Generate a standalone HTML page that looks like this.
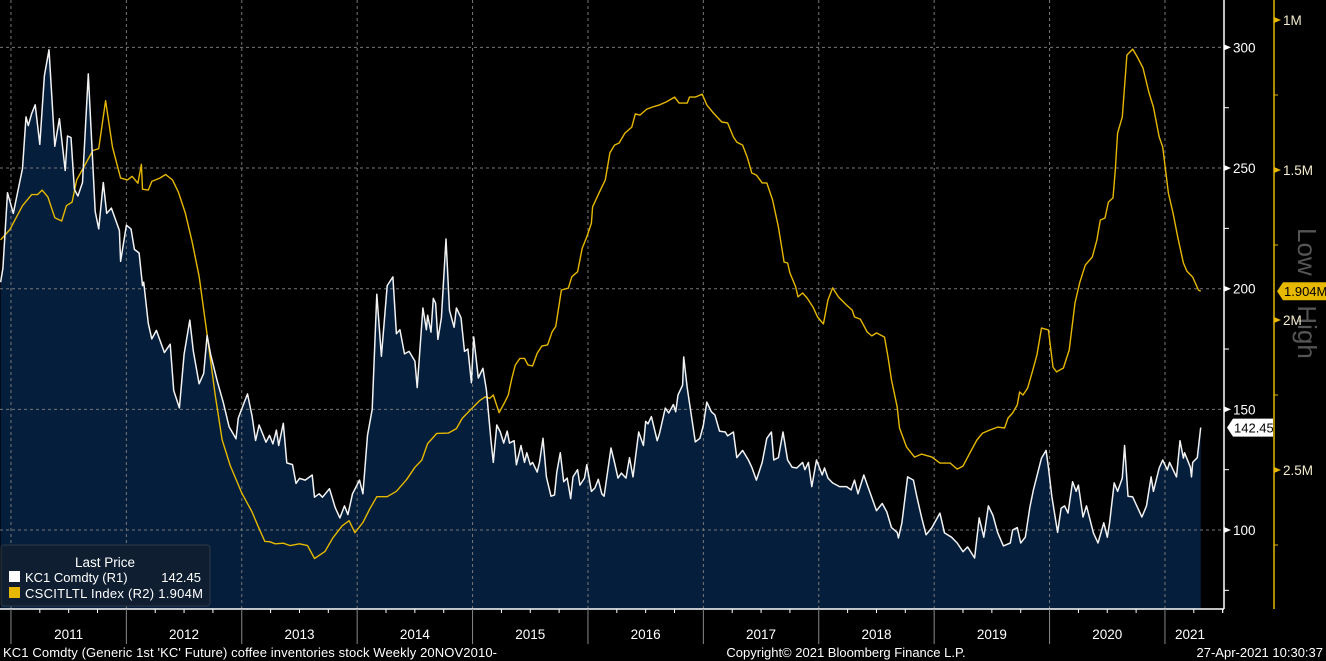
<!DOCTYPE html>
<html><head><meta charset="utf-8">
<style>
html,body{margin:0;padding:0;background:#000;}
body{width:1326px;height:661px;overflow:hidden;font-family:"Liberation Sans",sans-serif;position:relative;}
svg{display:block}
text{font-family:"Liberation Sans","DejaVu Sans",sans-serif;}
</style></head>
<body>
<svg id="chart" width="1326" height="661" viewBox="0 0 1326 661" xmlns="http://www.w3.org/2000/svg">
<rect x="0" y="0" width="1326" height="661" fill="#000"/>
<text x="0" y="0" transform="translate(1298,228) rotate(90)" fill="#555" font-size="26">Low &gt; High</text>
<g id="fillLayer"></g>
<g id="gridLayer"></g>
<g id="lineLayer"></g>
<g id="axisLayer"></g>
</svg>
<script>
// ---- data ----
const kcDates=[2010.91,2010.93,2010.97,2011.02,2011.10,2011.13,2011.15,2011.18,2011.21,2011.25,2011.29,2011.33,2011.38,2011.42,2011.47,2011.49,2011.52,2011.55,2011.58,2011.62,2011.67,2011.69,2011.73,2011.76,2011.80,2011.83,2011.87,2011.94,2011.95,2012.00,2012.04,2012.07,2012.11,2012.14,2012.15,2012.19,2012.22,2012.26,2012.33,2012.38,2012.41,2012.46,2012.50,2012.55,2012.58,2012.63,2012.67,2012.70,2012.73,2012.79,2012.84,2012.89,2012.95,2012.97,2013.05,2013.09,2013.12,2013.15,2013.21,2013.24,2013.27,2013.30,2013.32,2013.36,2013.39,2013.44,2013.47,2013.50,2013.55,2013.61,2013.63,2013.67,2013.70,2013.76,2013.81,2013.85,2013.89,2013.92,2013.96,2014.02,2014.05,2014.09,2014.13,2014.17,2014.21,2014.26,2014.31,2014.34,2014.37,2014.41,2014.45,2014.50,2014.52,2014.57,2014.60,2014.61,2014.64,2014.66,2014.68,2014.70,2014.73,2014.77,2014.80,2014.84,2014.86,2014.90,2014.93,2014.96,2014.99,2015.01,2015.05,2015.09,2015.12,2015.16,2015.18,2015.21,2015.24,2015.27,2015.30,2015.32,2015.36,2015.38,2015.42,2015.45,2015.47,2015.50,2015.52,2015.56,2015.58,2015.61,2015.64,2015.68,2015.71,2015.73,2015.76,2015.79,2015.82,2015.85,2015.87,2015.91,2015.93,2015.97,2015.99,2016.03,2016.06,2016.09,2016.12,2016.14,2016.20,2016.23,2016.26,2016.29,2016.33,2016.36,2016.39,2016.44,2016.48,2016.50,2016.52,2016.55,2016.60,2016.62,2016.67,2016.70,2016.74,2016.76,2016.78,2016.82,2016.83,2016.86,2016.88,2016.93,2016.97,2017.00,2017.03,2017.07,2017.10,2017.14,2017.19,2017.21,2017.26,2017.29,2017.34,2017.39,2017.42,2017.46,2017.51,2017.55,2017.59,2017.61,2017.65,2017.69,2017.73,2017.77,2017.81,2017.86,2017.88,2017.91,2017.94,2017.98,2018.03,2018.05,2018.08,2018.12,2018.18,2018.24,2018.28,2018.31,2018.34,2018.39,2018.43,2018.50,2018.55,2018.59,2018.63,2018.68,2018.69,2018.72,2018.77,2018.82,2018.85,2018.89,2018.93,2018.98,2019.05,2019.09,2019.15,2019.20,2019.25,2019.29,2019.35,2019.39,2019.43,2019.47,2019.51,2019.55,2019.60,2019.66,2019.68,2019.72,2019.75,2019.79,2019.83,2019.86,2019.93,2019.97,2019.99,2020.02,2020.07,2020.10,2020.13,2020.16,2020.20,2020.23,2020.25,2020.29,2020.32,2020.38,2020.42,2020.47,2020.50,2020.52,2020.56,2020.59,2020.63,2020.65,2020.68,2020.72,2020.74,2020.80,2020.84,2020.88,2020.90,2020.95,2020.98,2021.02,2021.04,2021.10,2021.13,2021.16,2021.17,2021.22,2021.23,2021.24,2021.28,2021.31];
const kcPrices=[202.7,208.4,239.8,231.2,249.8,271.2,267.6,272.6,276.2,259.8,288.3,299,259,270.5,249,263.3,262.6,241.2,238.4,244,289,269.8,232,224.8,244,231.2,233.4,224.1,211.3,226.3,224.8,216.3,214.8,201.3,202.7,185.6,179.2,182.7,173.5,177,157.8,150.6,172.8,187,174.2,160.6,164.9,180.6,172.8,161.3,152.8,142.8,137.8,146.4,156.4,147.1,137.1,143.5,136.4,139.2,135.7,141.4,135,144.2,127.8,127.1,119.3,121.4,120.7,122.8,113.6,115,113.6,117.1,109.3,105,110,106.4,115,120.7,115,139.2,150,197.7,172,201.3,204.9,181.3,183,173,174,170,159,192,183,189,182,196,194,179,188,220.6,191,184,192,188,174,175,161,180,163,167,158,137,128,143.5,140.6,136,141,136,137,127,135,128,132,127,128,124,128,138,122,114,114.5,124,132,120,121.5,113,122,125,118.6,121.5,127,116,117.4,121,115,114,134,128,121.5,123.6,121.5,130,122,140.6,135,145,144,147,137,140,150.5,148.5,152,149,156,160,171.7,159,152.6,136.5,138,143.5,153,149,147.7,141,140.6,139,140.6,130,133,129,126,120.7,128,138,140.6,129,130,140.6,129,126,125.7,128,125,128,118,129,122.8,125.7,121.5,119.5,118,118,116.6,120.7,115,122.8,117.4,108,111,107.5,101,99,96.7,103,122,120.7,113.7,105.4,98,101,107,98.8,97,94.6,91,93,88.4,105,97,110,106,99,93.4,94.6,100,101,94.6,97,109.5,116.6,129.8,133,126,113.7,99,109,110,107,120,116,118.6,105.4,110,98.8,94.6,103,97,103,119.5,116,121.5,135,114,113.7,111.6,105.4,110,122,116,125.7,129,124.9,128,122,137,129.8,132,126,122,128,130,142.45];
const invDates=[2010.91,2010.99,2011.10,2011.18,2011.23,2011.27,2011.32,2011.38,2011.44,2011.48,2011.53,2011.57,2011.66,2011.71,2011.76,2011.82,2011.88,2011.95,2012.01,2012.05,2012.10,2012.13,2012.14,2012.19,2012.22,2012.29,2012.34,2012.40,2012.45,2012.51,2012.57,2012.63,2012.71,2012.77,2012.83,2012.90,2013.00,2013.09,2013.14,2013.20,2013.24,2013.29,2013.36,2013.42,2013.50,2013.57,2013.63,2013.72,2013.79,2013.87,2013.93,2013.98,2014.05,2014.11,2014.17,2014.26,2014.34,2014.43,2014.50,2014.56,2014.61,2014.69,2014.79,2014.86,2014.91,2014.98,2015.06,2015.11,2015.15,2015.18,2015.23,2015.28,2015.31,2015.34,2015.37,2015.41,2015.45,2015.48,2015.52,2015.56,2015.60,2015.65,2015.69,2015.72,2015.77,2015.83,2015.86,2015.91,2015.95,2015.99,2016.03,2016.04,2016.10,2016.15,2016.19,2016.23,2016.27,2016.32,2016.38,2016.41,2016.45,2016.51,2016.56,2016.62,2016.68,2016.75,2016.79,2016.86,2016.88,2016.93,2016.99,2017.03,2017.08,2017.16,2017.21,2017.26,2017.29,2017.34,2017.38,2017.42,2017.46,2017.51,2017.55,2017.60,2017.65,2017.70,2017.73,2017.75,2017.80,2017.82,2017.86,2017.90,2017.95,2017.99,2018.04,2018.08,2018.12,2018.17,2018.24,2018.29,2018.31,2018.36,2018.42,2018.46,2018.50,2018.55,2018.57,2018.60,2018.63,2018.68,2018.70,2018.76,2018.83,2018.89,2018.98,2019.05,2019.14,2019.20,2019.25,2019.31,2019.37,2019.42,2019.48,2019.55,2019.61,2019.64,2019.68,2019.72,2019.74,2019.77,2019.81,2019.85,2019.89,2019.93,2019.99,2020.03,2020.06,2020.12,2020.17,2020.22,2020.26,2020.31,2020.37,2020.41,2020.44,2020.48,2020.51,2020.55,2020.57,2020.59,2020.63,2020.67,2020.72,2020.76,2020.81,2020.86,2020.90,2020.95,2020.98,2021.03,2021.07,2021.11,2021.16,2021.19,2021.24,2021.29,2021.31];
const invValues=[1.733,1.699,1.619,1.582,1.582,1.567,1.590,1.659,1.670,1.619,1.607,1.533,1.470,1.435,1.429,1.269,1.424,1.527,1.533,1.521,1.544,1.481,1.564,1.567,1.538,1.527,1.515,1.533,1.573,1.642,1.739,1.854,2.078,2.250,2.399,2.485,2.577,2.640,2.686,2.738,2.739,2.746,2.744,2.752,2.746,2.752,2.795,2.772,2.726,2.686,2.669,2.709,2.675,2.629,2.589,2.589,2.571,2.531,2.491,2.467,2.412,2.378,2.377,2.362,2.328,2.300,2.269,2.256,2.261,2.250,2.309,2.273,2.250,2.195,2.150,2.128,2.128,2.150,2.153,2.111,2.087,2.083,2.039,2.022,1.900,1.894,1.856,1.839,1.761,1.723,1.677,1.623,1.573,1.533,1.443,1.417,1.410,1.377,1.357,1.313,1.317,1.297,1.290,1.283,1.273,1.257,1.277,1.277,1.257,1.257,1.247,1.283,1.307,1.340,1.343,1.390,1.407,1.417,1.457,1.510,1.517,1.543,1.543,1.600,1.690,1.807,1.810,1.843,1.890,1.923,1.910,1.927,1.957,1.990,2.013,1.933,1.893,1.923,1.950,1.967,1.990,1.997,2.040,2.053,2.043,2.053,2.057,2.123,2.200,2.290,2.360,2.423,2.457,2.447,2.457,2.477,2.477,2.497,2.487,2.443,2.400,2.377,2.367,2.357,2.360,2.327,2.310,2.283,2.240,2.250,2.227,2.173,2.117,2.027,2.033,2.157,2.173,2.160,2.100,1.943,1.877,1.817,1.790,1.733,1.667,1.660,1.607,1.593,1.500,1.377,1.323,1.117,1.097,1.123,1.160,1.240,1.290,1.390,1.423,1.577,1.643,1.723,1.810,1.837,1.857,1.900,1.904];
const years=[2011,2012,2013,2014,2015,2016,2017,2018,2019,2020,2021];
const r1Ticks=[300,250,200,150,100];
const r1Minor=[275,225,175,125,75];
const r2Ticks=[1,1.5,2,2.5];
const r2Labels=['1M','1.5M','2M','2.5M'];
const r2Minor=[1.25,1.75,2.25,2.75];
const lastKC=142.45, lastInv=1.904;

// ---- scales ----
const X=t=>(t-2010.905)*115.4;
const Y1=v=>530-(v-100)*2.413;
const Y2=m=>20+(m-1)*300;
const NS='http://www.w3.org/2000/svg';
function mk(tag,attrs,parent){const e=document.createElementNS(NS,tag);for(const k in attrs)e.setAttribute(k,attrs[k]);parent.appendChild(e);return e;}
const fillL=document.getElementById('fillLayer'),gridL=document.getElementById('gridLayer'),lineL=document.getElementById('lineLayer'),axL=document.getElementById('axisLayer');
const BOT=609, RX=1224, R2X=1274;

let pts=kcDates.map((t,i)=>X(t).toFixed(1)+','+Y1(kcPrices[i]).toFixed(1));
let area=mk('polygon',{points:X(kcDates[0]).toFixed(1)+','+BOT+' '+pts.join(' ')+' '+X(kcDates[kcDates.length-1]).toFixed(1)+','+BOT,fill:'#041e3b'},fillL);



r1Ticks.forEach(v=>{const g=mk('line',{x1:0,x2:RX,y1:Y1(v),y2:Y1(v),stroke:'#777','stroke-width':1,'stroke-dasharray':'3,3'},gridL);

});
years.forEach(y=>{const g=mk('line',{x1:X(y),x2:X(y),y1:0,y2:BOT,stroke:'#777','stroke-width':1,'stroke-dasharray':'3,3'},gridL);

});

const inv=mk('polyline',{points:invDates.map((t,i)=>X(t).toFixed(1)+','+Y2(invValues[i]).toFixed(1)).join(' '),fill:'none',stroke:'#e6b800','stroke-width':1.4,'stroke-linejoin':'round'},lineL);


const kc=mk('polyline',{points:pts.join(' '),fill:'none',stroke:'#f2f2f2','stroke-width':1.5,'stroke-linejoin':'round'},lineL);



mk('line',{x1:0,x2:RX,y1:BOT,y2:BOT,stroke:'#fff','stroke-width':1.5},axL);
mk('line',{x1:RX,x2:RX,y1:0,y2:BOT,stroke:'#fff','stroke-width':1.5},axL);
mk('line',{x1:R2X,x2:R2X,y1:0,y2:BOT,stroke:'#e6b800','stroke-width':1.5},axL);
r1Ticks.forEach(v=>{const y=Y1(v);
mk('polygon',{points:`${RX},${y-3} ${RX+7},${y} ${RX},${y+3}`,fill:'#fff'},axL);
const t=mk('text',{x:RX+9,y:y+5,fill:'#fff','font-size':13.5},axL);t.textContent=v;

});
r1Minor.forEach(v=>mk('line',{x1:RX,x2:RX+5,y1:Y1(v),y2:Y1(v),stroke:'#fff'},axL));
r2Ticks.forEach((v,i)=>{const y=Y2(v);
mk('polygon',{points:`${R2X},${y-3} ${R2X+7},${y} ${R2X},${y+3}`,fill:'#e6b800'},axL);
const t=mk('text',{x:R2X+9,y:y+5,fill:'#f4eccc','font-size':13.5},axL);t.textContent=r2Labels[i];

});
r2Minor.forEach(v=>mk('line',{x1:R2X,x2:R2X+4,y1:Y2(v),y2:Y2(v),stroke:'#e6b800'},axL));
years.forEach(y=>{mk('line',{x1:X(y),x2:X(y),y1:BOT,y2:644,stroke:'#888','stroke-width':1},axL);
for(let q=1;q<4;q++){const xx=X(y+q/4);if(xx<RX)mk('line',{x1:xx,x2:xx,y1:BOT,y2:BOT+4,stroke:'#fff'},axL);}
const cx=Math.min((X(y)+X(y+1))/2,1190);
const t=mk('text',{x:cx,y:639,fill:'#fff','font-size':13.5,'text-anchor':'middle'},axL);t.textContent=y;

});
mk('line',{x1:X(2021.5),x2:X(2021.5),y1:BOT,y2:BOT+4,stroke:'#fff'},axL);

const ly=Y1(lastKC);
mk('polygon',{points:`${RX+3},${ly} ${RX+9},${ly-9} ${RX+49},${ly-9} ${RX+49},${ly+9} ${RX+9},${ly+9}`,fill:'#fff'},axL);
const lt=mk('text',{x:RX+10,y:ly+5,fill:'#000','font-size':13},axL);lt.textContent=lastKC.toFixed(2);


const iy=Y2(lastInv);
mk('polygon',{points:`${R2X+3},${iy} ${R2X+9},${iy-9} 1326,${iy-9} 1326,${iy+9} ${R2X+9},${iy+9}`,fill:'#e6b800'},axL);
const it=mk('text',{x:R2X+10,y:iy+5,fill:'#000','font-size':13},axL);it.textContent=lastInv.toFixed(3)+'M';


</script>
<svg style="position:absolute;left:0;top:0;pointer-events:none" width="1326" height="661" xmlns="http://www.w3.org/2000/svg">
<g>
<rect x="1" y="545" width="209" height="61" rx="3" fill="#0f1e30" stroke="#2e3a48"/>
<text x="105" y="567" fill="#fff" font-size="13.5" text-anchor="middle">Last Price</text>
<rect x="9" y="571" width="11" height="11" fill="#fff"/>
<text x="25" y="582" fill="#fff" font-size="13">KC1 Comdty  (R1)</text>
<text x="201" y="582" fill="#fff" font-size="13" text-anchor="end">142.45</text>
<rect x="9" y="587" width="11" height="11" fill="#e6b800"/>
<text x="25" y="598" fill="#fff" font-size="13" textLength="178">CSCITLTL Index  (R2) 1.904M</text>
</g>
<text x="3" y="657" fill="#fff" font-size="13" textLength="494">KC1 Comdty (Generic 1st 'KC' Future) coffee inventories stock  Weekly 20NOV2010-</text>
<text x="846" y="657" fill="#fff" font-size="13" text-anchor="middle">Copyright© 2021 Bloomberg Finance L.P.</text>
<text x="1323" y="657" fill="#fff" font-size="13" text-anchor="end">27-Apr-2021 10:30:37</text>
</svg>
</body></html>
